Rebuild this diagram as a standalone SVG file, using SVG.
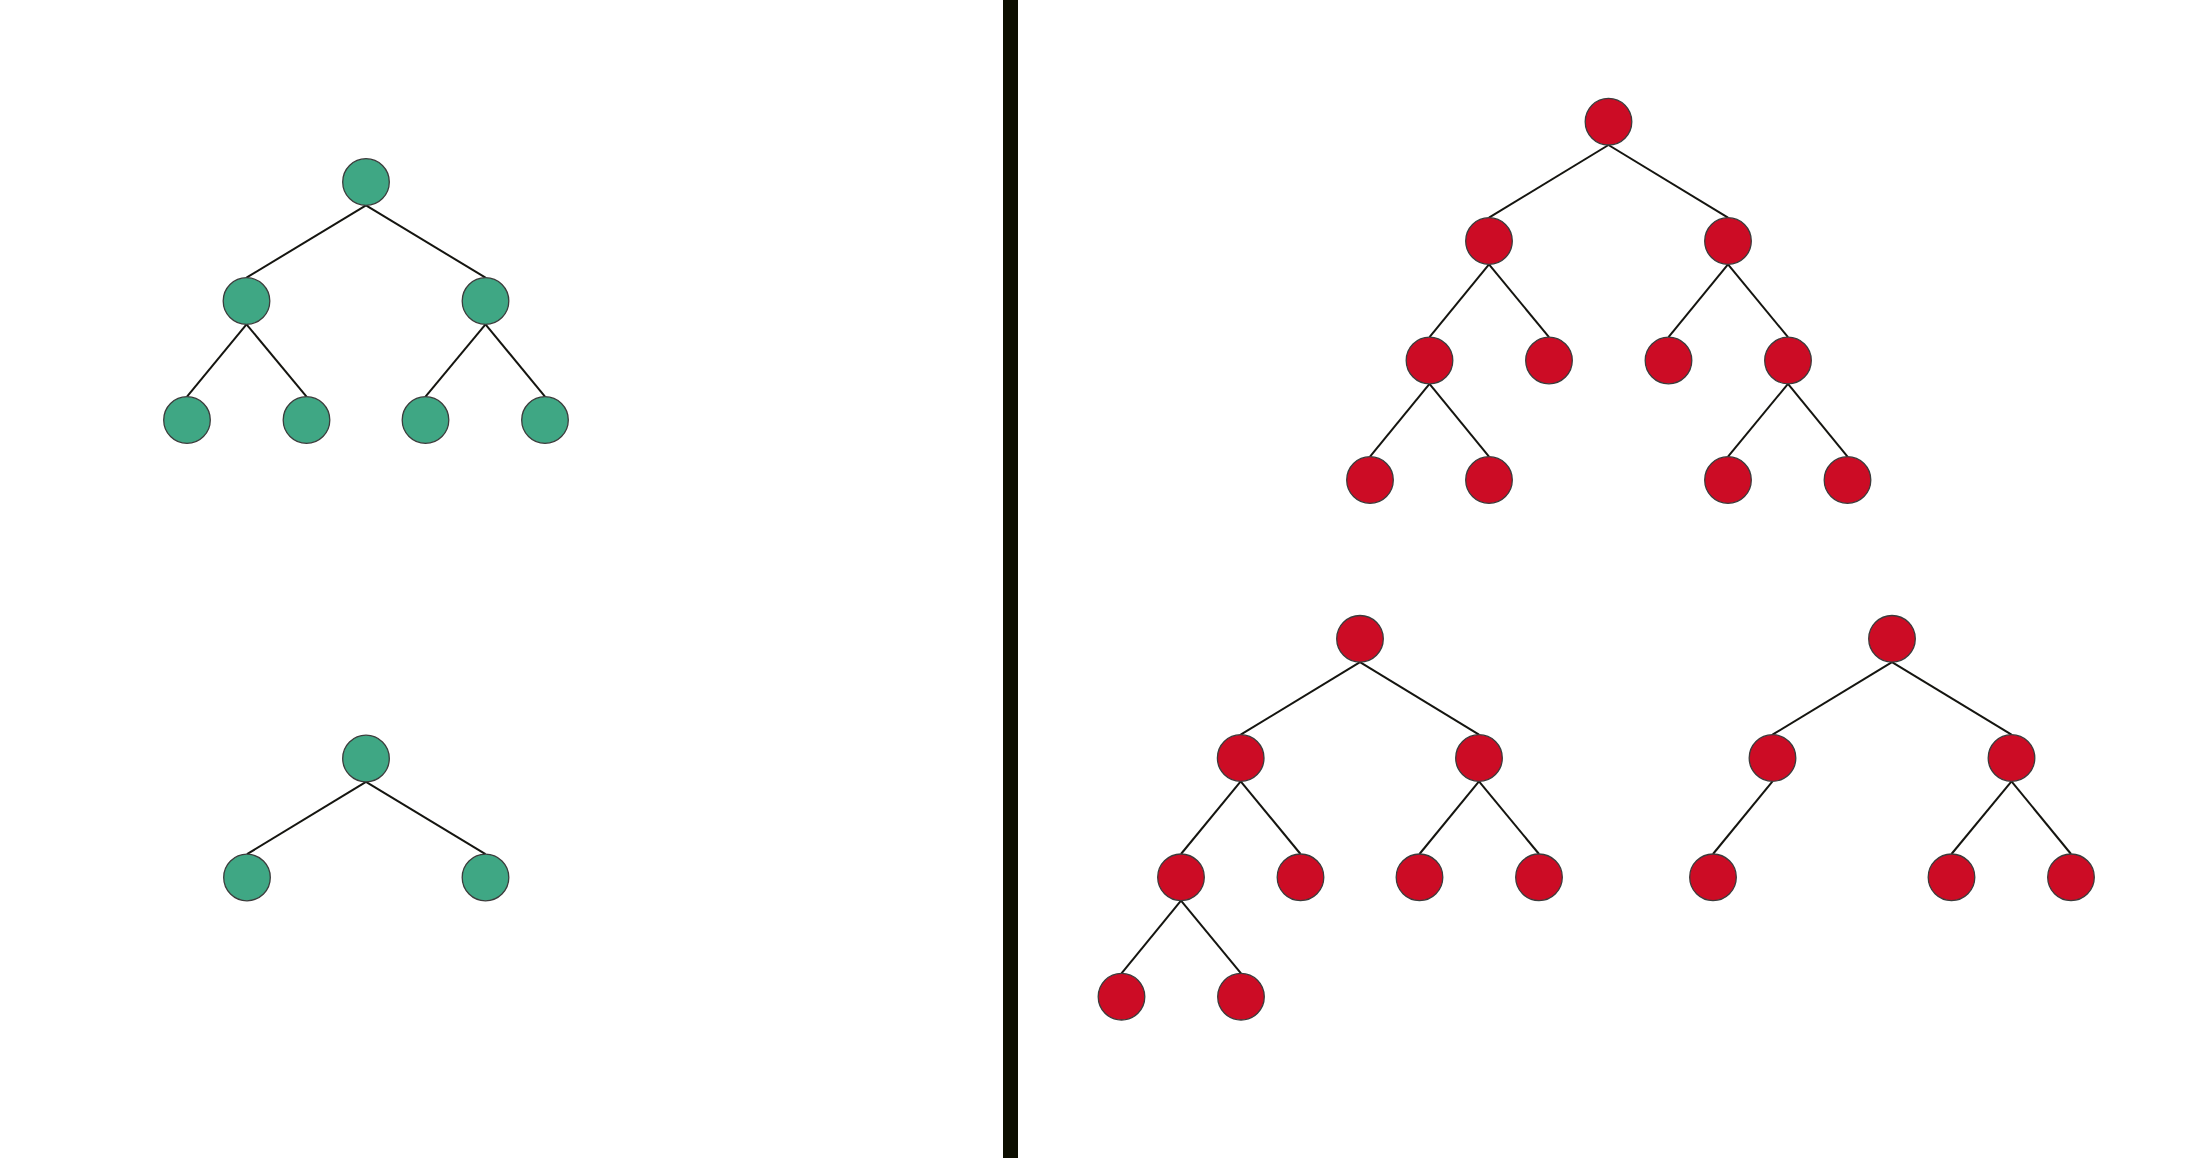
<svg xmlns="http://www.w3.org/2000/svg" width="2200" height="1158" viewBox="0 0 2200 1158">
<style>
.e{stroke:#151510;stroke-width:2;fill:none}
.g{fill:#3fa784;stroke:#3c3c3c;stroke-width:1.3}
.r{fill:#cc0c25;stroke:#3c3c3c;stroke-width:1.3}
</style>
<rect width="2200" height="1158" fill="#ffffff"/>
<rect id="divider" x="1003" y="0" width="15" height="1158" fill="#0c0e00"/>
<g id="connectors">
<line class="e" x1="366" y1="205.3" x2="246.5" y2="277.7"/>
<line class="e" x1="366" y1="205.3" x2="485.5" y2="277.7"/>
<line class="e" x1="246.5" y1="324.3" x2="187" y2="396.7"/>
<line class="e" x1="246.5" y1="324.3" x2="306.5" y2="396.7"/>
<line class="e" x1="485.5" y1="324.3" x2="425.5" y2="396.7"/>
<line class="e" x1="485.5" y1="324.3" x2="545" y2="396.7"/>
<line class="e" x1="366" y1="781.8" x2="247" y2="854.2"/>
<line class="e" x1="366" y1="781.8" x2="485.5" y2="854.2"/>
<line class="e" x1="1608.5" y1="145" x2="1489" y2="217.7"/>
<line class="e" x1="1608.5" y1="145" x2="1728" y2="217.7"/>
<line class="e" x1="1489" y1="264.3" x2="1429.5" y2="337.2"/>
<line class="e" x1="1489" y1="264.3" x2="1549" y2="337.2"/>
<line class="e" x1="1728" y1="264.3" x2="1668.5" y2="337.2"/>
<line class="e" x1="1728" y1="264.3" x2="1788" y2="337.2"/>
<line class="e" x1="1429.5" y1="383.8" x2="1370" y2="456.7"/>
<line class="e" x1="1429.5" y1="383.8" x2="1489" y2="456.7"/>
<line class="e" x1="1788" y1="383.8" x2="1728" y2="456.7"/>
<line class="e" x1="1788" y1="383.8" x2="1847.5" y2="456.7"/>
<line class="e" x1="1360" y1="662.1" x2="1240.7" y2="734.7"/>
<line class="e" x1="1360" y1="662.1" x2="1479" y2="734.7"/>
<line class="e" x1="1240.7" y1="781.3" x2="1181" y2="854"/>
<line class="e" x1="1240.7" y1="781.3" x2="1300.5" y2="854"/>
<line class="e" x1="1479" y1="781.3" x2="1419.5" y2="854"/>
<line class="e" x1="1479" y1="781.3" x2="1539" y2="854"/>
<line class="e" x1="1181" y1="900.6" x2="1121.5" y2="973.4"/>
<line class="e" x1="1181" y1="900.6" x2="1241" y2="973.4"/>
<line class="e" x1="1892" y1="662.1" x2="1772.5" y2="734.7"/>
<line class="e" x1="1892" y1="662.1" x2="2011.5" y2="734.7"/>
<line class="e" x1="1772.5" y1="781.3" x2="1713" y2="854"/>
<line class="e" x1="2011.5" y1="781.3" x2="1951.5" y2="854"/>
<line class="e" x1="2011.5" y1="781.3" x2="2071" y2="854"/>
</g>
<g id="greenA">
<circle id="gA0" class="g" cx="366" cy="182" r="23.3"/>
<circle id="gA1" class="g" cx="246.5" cy="301" r="23.3"/>
<circle id="gA2" class="g" cx="485.5" cy="301" r="23.3"/>
<circle id="gA3" class="g" cx="187" cy="420" r="23.3"/>
<circle id="gA4" class="g" cx="306.5" cy="420" r="23.3"/>
<circle id="gA5" class="g" cx="425.5" cy="420" r="23.3"/>
<circle id="gA6" class="g" cx="545" cy="420" r="23.3"/>
</g>
<g id="greenB">
<circle id="gB0" class="g" cx="366" cy="758.5" r="23.3"/>
<circle id="gB1" class="g" cx="247" cy="877.5" r="23.3"/>
<circle id="gB2" class="g" cx="485.5" cy="877.5" r="23.3"/>
</g>
<g id="redTop">
<circle id="rT0" class="r" cx="1608.5" cy="121.7" r="23.3"/>
<circle id="rT1" class="r" cx="1489" cy="241" r="23.3"/>
<circle id="rT2" class="r" cx="1728" cy="241" r="23.3"/>
<circle id="rT3" class="r" cx="1429.5" cy="360.5" r="23.3"/>
<circle id="rT4" class="r" cx="1549" cy="360.5" r="23.3"/>
<circle id="rT5" class="r" cx="1668.5" cy="360.5" r="23.3"/>
<circle id="rT6" class="r" cx="1788" cy="360.5" r="23.3"/>
<circle id="rT7" class="r" cx="1370" cy="480" r="23.3"/>
<circle id="rT8" class="r" cx="1489" cy="480" r="23.3"/>
<circle id="rT9" class="r" cx="1728" cy="480" r="23.3"/>
<circle id="rT10" class="r" cx="1847.5" cy="480" r="23.3"/>
</g>
<g id="redBL">
<circle id="rL0" class="r" cx="1360" cy="638.8" r="23.3"/>
<circle id="rL1" class="r" cx="1240.7" cy="758" r="23.3"/>
<circle id="rL2" class="r" cx="1479" cy="758" r="23.3"/>
<circle id="rL3" class="r" cx="1181" cy="877.3" r="23.3"/>
<circle id="rL4" class="r" cx="1300.5" cy="877.3" r="23.3"/>
<circle id="rL5" class="r" cx="1419.5" cy="877.3" r="23.3"/>
<circle id="rL6" class="r" cx="1539" cy="877.3" r="23.3"/>
<circle id="rL7" class="r" cx="1121.5" cy="996.7" r="23.3"/>
<circle id="rL8" class="r" cx="1241" cy="996.7" r="23.3"/>
</g>
<g id="redBR">
<circle id="rR0" class="r" cx="1892" cy="638.8" r="23.3"/>
<circle id="rR1" class="r" cx="1772.5" cy="758" r="23.3"/>
<circle id="rR2" class="r" cx="2011.5" cy="758" r="23.3"/>
<circle id="rR3" class="r" cx="1713" cy="877.3" r="23.3"/>
<circle id="rR4" class="r" cx="1951.5" cy="877.3" r="23.3"/>
<circle id="rR5" class="r" cx="2071" cy="877.3" r="23.3"/>
</g>
</svg>
